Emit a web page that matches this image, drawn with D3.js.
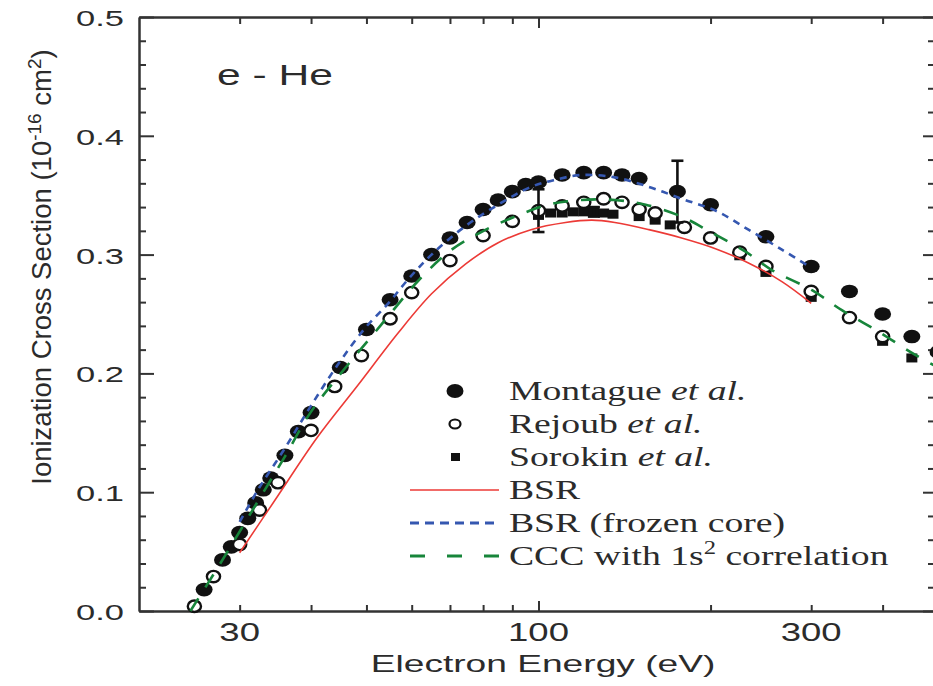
<!DOCTYPE html>
<html>
<head>
<meta charset="utf-8">
<script src="https://cdn.jsdelivr.net/npm/d3@7"></script>
<style>
  html, body { margin: 0; padding: 0; background: #fff; }
  svg { display: block; }
  .sans { font-family: "Liberation Sans", Arial, sans-serif; fill: #2b2b2b; }
  .serif { font-family: "Liberation Serif", "Times New Roman", serif; fill: #2b2b2b; }
</style>
</head>
<body>
<svg id="chart" width="933" height="686"></svg>
<script>
// --- data ---
var montagueE = [26, 28, 29, 30, 31, 32, 33, 34, 36, 38, 40, 45, 50, 55, 60, 65, 70, 75, 80, 85, 90, 95, 100, 110, 120, 130, 140, 150, 175, 200, 250, 300, 350, 400, 450, 500];
var montagueV = [0.018, 0.043, 0.054, 0.066, 0.078, 0.091, 0.102, 0.112, 0.131, 0.151, 0.167, 0.205, 0.237, 0.262, 0.282, 0.300, 0.314, 0.327, 0.338, 0.346, 0.353, 0.359, 0.361, 0.367, 0.369, 0.369, 0.367, 0.364, 0.353, 0.342, 0.315, 0.290, 0.269, 0.250, 0.231, 0.218];

var rejoubE = [25, 27, 30, 32.5, 35, 40, 44, 49, 55, 60, 70, 80, 90, 100, 110, 120, 130, 140, 150, 160, 180, 200, 225, 250, 300, 350, 400];
var rejoubV = [0.004, 0.029, 0.056, 0.085, 0.108, 0.152, 0.189, 0.215, 0.246, 0.268, 0.295, 0.316, 0.328, 0.337, 0.341, 0.344, 0.347, 0.344, 0.338, 0.335, 0.323, 0.314, 0.302, 0.290, 0.269, 0.247, 0.231];

var sorokinE = [100, 105, 110, 115, 120, 125, 130, 135, 150, 160, 170, 225, 250, 300, 400, 450];
var sorokinV = [0.333, 0.335, 0.335, 0.336, 0.336, 0.336, 0.335, 0.334, 0.332, 0.329, 0.325, 0.299, 0.285, 0.264, 0.227, 0.213];

// error bars: [energy, value, half-width]
var errorBars = [[100, 0.337, 0.018], [175, 0.353, 0.026], [125, 0.336, 0.004]];

var bsrE = [30, 35, 41, 48.3, 56.8, 65, 74.5, 85, 97, 111.5, 124, 136, 156, 178, 204, 233, 267, 300];
var bsrV = [0.049, 0.097, 0.146, 0.190, 0.234, 0.267, 0.292, 0.310, 0.321, 0.327, 0.329, 0.327, 0.321, 0.314, 0.305, 0.293, 0.277, 0.259];

var frozenE = [30, 32.3, 36, 39.9, 44.5, 49.7, 54.6, 59.1, 65, 74.5, 85, 97, 107, 119, 136, 156, 178, 204, 233, 267, 300];
var frozenV = [0.075, 0.102, 0.137, 0.172, 0.207, 0.238, 0.259, 0.279, 0.300, 0.324, 0.342, 0.357, 0.363, 0.367, 0.365, 0.357, 0.347, 0.337, 0.321, 0.304, 0.289];

var cccE = [24.6, 27.1, 30.1, 33.2, 36, 39.9, 45.1, 51, 55, 61.6, 70.4, 79.4, 91, 104, 119, 136, 154, 178, 200, 231, 256, 301, 340, 394, 451, 500];
var cccV = [0.0, 0.032, 0.068, 0.102, 0.130, 0.167, 0.200, 0.231, 0.250, 0.278, 0.304, 0.319, 0.332, 0.342, 0.346, 0.346, 0.342, 0.332, 0.319, 0.302, 0.287, 0.270, 0.253, 0.235, 0.217, 0.205];

var xMinorTicks = [30, 40, 50, 60, 70, 80, 90, 200, 300, 400, 500];
var xMajorTicks = [100];
var xTickLabels = [30, 100, 300];
var yMajorTicks = [0, 0.1, 0.2, 0.3, 0.4, 0.5];
var yMinorTicks = d3.range(0, 0.5001, 0.02).filter(function(v) { return Math.abs(v * 10 - Math.round(v * 10)) > 1e-6; });

var legendItems = [
  {kind: "filled", name: "Montague", tail: " et al."},
  {kind: "open", name: "Rejoub", tail: " et al."},
  {kind: "square", name: "Sorokin", tail: " et al."},
  {kind: "bsr", name: "BSR"},
  {kind: "frozen", name: "BSR (frozen core)"},
  {kind: "ccc", name: "CCC with 1s", sup: "2", after: " correlation"}
];

// --- layout ---
var svg = d3.select("#chart");
var x = d3.scaleLog().domain([20, 500]).range([139, 938]);
var y = d3.scaleLinear().domain([0, 0.5]).range([611, 17]);
var rightX = 936;

var lineStyles = {
  bsr: {color: "#ec3a36", width: 1.6, dash: null},
  frozen: {color: "#3557b0", width: 2.6, dash: "7,6"},
  ccc: {color: "#17853a", width: 2.6, dash: "15,13"}
};

function zip(es, vs) { return es.map(function(e, i) { return [e, vs[i]]; }); }

// --- axes (ticks only, labels drawn separately) ---
function styleAxis(g) {
  g.selectAll("path, line").attr("stroke", "#333").attr("stroke-width", 2);
  g.selectAll("text").remove();
}
svg.append("g").attr("transform", "translate(0,611)")
  .call(d3.axisBottom(x).tickValues(xMinorTicks).tickSize(-6).tickSizeOuter(0).tickFormat("")).call(styleAxis);
svg.append("g").attr("transform", "translate(0,611)")
  .call(d3.axisBottom(x).tickValues(xMajorTicks).tickSize(-10).tickSizeOuter(0).tickFormat("")).call(styleAxis);
svg.append("g").attr("transform", "translate(0,17)")
  .call(d3.axisTop(x).tickValues(xMinorTicks).tickSize(-7).tickSizeOuter(0).tickFormat("")).call(styleAxis);
svg.append("g").attr("transform", "translate(0,17)")
  .call(d3.axisTop(x).tickValues(xMajorTicks).tickSize(-11).tickSizeOuter(0).tickFormat("")).call(styleAxis);
svg.append("g").attr("transform", "translate(139,0)")
  .call(d3.axisLeft(y).tickValues(yMinorTicks).tickSize(-7).tickSizeOuter(0).tickFormat("")).call(styleAxis);
svg.append("g").attr("transform", "translate(139,0)")
  .call(d3.axisLeft(y).tickValues(yMajorTicks).tickSize(-15).tickSizeOuter(0).tickFormat("")).call(styleAxis);
svg.append("g").attr("transform", "translate(" + rightX + ",0)")
  .call(d3.axisRight(y).tickValues(yMinorTicks).tickSize(-8).tickSizeOuter(0).tickFormat("")).call(styleAxis);
svg.append("g").attr("transform", "translate(" + rightX + ",0)")
  .call(d3.axisRight(y).tickValues(yMajorTicks).tickSize(-13).tickSizeOuter(0).tickFormat("")).call(styleAxis);

// tick labels (the figure's text is stretched horizontally)
svg.append("g").selectAll("text").data(yMajorTicks).enter().append("text")
  .attr("class", "sans").attr("font-size", 23).attr("text-anchor", "end")
  .attr("transform", function(d) { return "translate(124," + (y(d) + 9) + ") scale(1.5,1)"; })
  .text(function(d) { return d.toFixed(1); });

svg.append("g").selectAll("text").data(xTickLabels).enter().append("text")
  .attr("class", "sans").attr("font-size", 25).attr("text-anchor", "middle")
  .attr("transform", function(d) { return "translate(" + x(d) + ",641) scale(1.46,1)"; })
  .text(function(d) { return d; });

// axis titles
svg.append("text").attr("class", "sans").attr("font-size", 23.5).attr("text-anchor", "middle")
  .attr("transform", "translate(543,672) scale(1.58,1)")
  .text("Electron Energy (eV)");

var yt = svg.append("text").attr("class", "sans").attr("font-size", 27.5).attr("text-anchor", "middle")
  .attr("transform", "translate(51,267) rotate(-90)");
yt.append("tspan").text("Ionization Cross Section (10");
yt.append("tspan").attr("dy", -10).attr("font-size", 19).text("-16");
yt.append("tspan").attr("dy", 10).text(" cm");
yt.append("tspan").attr("dy", -10).attr("font-size", 19).text("2");
yt.append("tspan").attr("dy", 10).text(")");

svg.append("text").attr("class", "sans").attr("font-size", 30)
  .attr("transform", "translate(217,85) scale(1.42,1)")
  .text("e - He");

// --- markers ---
function drawMarker(g, kind, cx, cy) {
  if (kind === "filled") {
    g.append("ellipse").attr("cx", cx).attr("cy", cy).attr("rx", 8.5).attr("ry", 6.8).attr("fill", "#111");
  } else if (kind === "open") {
    g.append("ellipse").attr("cx", cx).attr("cy", cy).attr("rx", 6.6).attr("ry", 5.7)
      .attr("fill", "#fff").attr("stroke", "#111").attr("stroke-width", 2.4);
  } else {
    g.append("rect").attr("x", cx - 5.5).attr("y", cy - 4.5).attr("width", 11).attr("height", 9).attr("fill", "#111");
  }
}

var markG = svg.append("g");
zip(sorokinE, sorokinV).forEach(function(p) { drawMarker(markG, "square", x(p[0]), y(p[1])); });
zip(montagueE, montagueV).forEach(function(p) { drawMarker(markG, "filled", x(p[0]), y(p[1])); });
zip(rejoubE, rejoubV).forEach(function(p) { drawMarker(markG, "open", x(p[0]), y(p[1])); });

// error bars
var errG = svg.append("g").attr("stroke", "#111").attr("stroke-width", 2.6);
errorBars.forEach(function(b) {
  var cx = x(b[0]), y0 = y(b[1] - b[2]), y1 = y(b[1] + b[2]);
  errG.append("line").attr("x1", cx).attr("x2", cx).attr("y1", y0).attr("y2", y1);
  errG.append("line").attr("x1", cx - 6).attr("x2", cx + 6).attr("y1", y0).attr("y2", y0);
  errG.append("line").attr("x1", cx - 6).attr("x2", cx + 6).attr("y1", y1).attr("y2", y1);
});

// --- theory curves, drawn over the points ---
var line = d3.line()
  .x(function(d) { return x(d[0]); })
  .y(function(d) { return y(d[1]); })
  .curve(d3.curveCatmullRom.alpha(0.5));

[["bsr", bsrE, bsrV], ["frozen", frozenE, frozenV], ["ccc", cccE, cccV]].forEach(function(s) {
  var st = lineStyles[s[0]];
  svg.append("path").datum(zip(s[1], s[2]))
    .attr("d", line).attr("fill", "none")
    .attr("stroke", st.color).attr("stroke-width", st.width)
    .attr("stroke-dasharray", st.dash);
});

// --- legend ---
var leg = svg.append("g");
legendItems.forEach(function(it, i) {
  var base = 400 + i * 33;
  var cy = base - 9;
  if (lineStyles[it.kind]) {
    var st = lineStyles[it.kind];
    leg.append("line").attr("x1", 410).attr("x2", 499).attr("y1", cy).attr("y2", cy)
      .attr("stroke", st.color).attr("stroke-width", it.kind === "bsr" ? 1.6 : 2.8)
      .attr("stroke-dasharray", it.kind === "frozen" ? "9,6" : it.kind === "ccc" ? "15,22" : null);
  } else {
    if (it.kind === "filled") leg.append("ellipse").attr("cx", 455).attr("cy", cy).attr("rx", 8.5).attr("ry", 7).attr("fill", "#111");
    else if (it.kind === "open") leg.append("ellipse").attr("cx", 455).attr("cy", cy).attr("rx", 5.5).attr("ry", 4.5)
      .attr("fill", "#fff").attr("stroke", "#111").attr("stroke-width", 2.2);
    else leg.append("rect").attr("x", 451).attr("y", cy - 4).attr("width", 9).attr("height", 8).attr("fill", "#111");
  }
  var t = leg.append("text").attr("class", "serif").attr("font-size", 27.5)
    .attr("transform", "translate(509," + base + ") scale(1.37,1)");
  t.append("tspan").text(it.name);
  if (it.tail) t.append("tspan").attr("font-style", "italic").text(it.tail);
  if (it.sup) {
    t.append("tspan").attr("dy", -11).attr("font-size", 18).text(it.sup);
    t.append("tspan").attr("dy", 11).text(it.after);
  }
});
</script>
</body>
</html>
